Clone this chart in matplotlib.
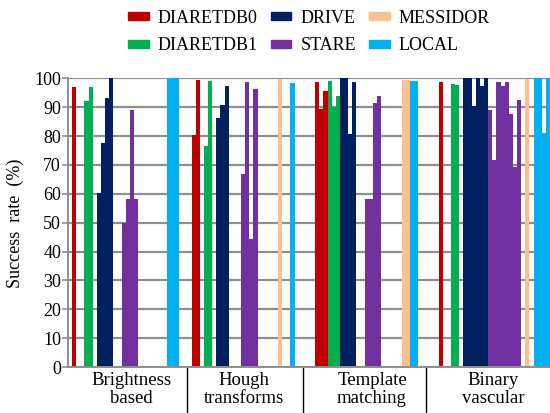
import numpy as np
import matplotlib
matplotlib.use("Agg")
import matplotlib.pyplot as plt
from matplotlib.patches import Patch
from matplotlib.transforms import blended_transform_factory

plt.rcParams['font.family'] = ['Liberation Serif', 'DejaVu Serif']

# datasets and their colours
datasets = ["DIARETDB0", "DIARETDB1", "DRIVE", "STARE", "MESSIDOR", "LOCAL"]
codes = ["D0", "D1", "DR", "ST", "ME", "LO"]
colors = ["#C00000", "#00B050", "#002060", "#7030A0", "#FAC090", "#00B0F0"]

groups = ["Brightness\nbased", "Hough\ntransforms", "Template\nmatching", "Binary\nvascular"]

# one entry per bar slot in each group, "" = empty slot
bright_sets = ["", "D0", "", "", "D1", "D1", "", "DR", "DR", "DR", "DR", "", "",
               "ST", "ST", "ST", "ST", "", "", "", "", "", "", "", "LO", "LO", "LO", "", ""]
bright_vals = [0, 97.1, 0, 0, 92.1, 97.1, 0, 60.1, 77.7, 93.2, 100, 0, 0,
               50.0, 58.2, 89.0, 58.2, 0, 0, 0, 0, 0, 0, 0, 99.7, 100, 100, 0, 0]

hough_sets = ["", "D0", "D0", "", "D1", "D1", "", "DR", "DR", "DR", "", "", "",
              "ST", "ST", "ST", "ST", "", "", "", "", "", "ME", "", "", "LO", "", ""]
hough_vals = [0, 80.3, 99.4, 0, 76.5, 99.1, 0, 86.2, 90.8, 97.3, 0, 0, 0,
              66.8, 98.7, 44.3, 96.3, 0, 0, 0, 0, 0, 99.8, 0, 0, 98.4, 0, 0]

templ_sets = ["", "", "", "D0", "D0", "D0", "D1", "D1", "D1", "DR", "DR", "DR", "DR", "", "",
              "ST", "ST", "ST", "ST", "", "", "", "", "", "ME", "ME", "LO", "LO", "", ""]
templ_vals = [0, 0, 0, 98.7, 89.4, 95.6, 99.1, 90.1, 93.9, 100, 100, 80.7, 98.7, 0, 0,
              58.2, 58.2, 91.4, 93.9, 0, 0, 0, 0, 0, 99.4, 99.4, 99.1, 99.1, 0, 0]

binary_sets = ["", "", "", "D0", "", "", "D1", "D1", "", "DR", "DR", "DR", "DR", "DR", "DR",
               "ST", "ST", "ST", "ST", "ST", "ST", "ST", "ST", "", "ME", "", "LO", "LO", "LO", "LO"]
binary_vals = [0, 0, 0, 98.7, 0, 0, 98.0, 97.7, 0, 100, 100, 90.5, 100, 97.5, 100,
               89.0, 71.7, 98.7, 97.5, 98.7, 87.6, 69.2, 92.5, 0, 99.8, 0, 100, 100, 81.2, 100]

group_sets = [bright_sets, hough_sets, templ_sets, binary_sets]
group_vals = [bright_vals, hough_vals, templ_vals, binary_vals]
label_x = [15.4, 42.8, 73.8, 103.2]

fig = plt.figure(figsize=(5.5, 4.13), dpi=100)
ax = fig.add_axes([68 / 550, 1 - 367 / 413, 1 - 68 / 550, (367 - 78.3) / 413])

col_of = dict(zip(codes, colors))
start = 0
bounds = []
for sets, vals in zip(group_sets, group_vals):
    for i, (s, v) in enumerate(zip(sets, vals)):
        if s:
            ax.bar(start + i, v, width=1.0, align='edge', color=col_of[s],
                   linewidth=0, zorder=2)
    start += len(sets)
    bounds.append(start)

ax.set_xlim(0, start)
ax.set_ylim(0, 100)
ax.set_yticks(np.arange(0, 101, 10))
ax.set_xticks([])
ax.yaxis.grid(True, color='#8f8f8f', linewidth=1.6, zorder=0)
ax.set_axisbelow(True)
for side in ['top', 'right']:
    ax.spines[side].set_visible(False)
ax.spines['left'].set_color('#8f8f8f')
ax.spines['left'].set_linewidth(1.4)
ax.spines['bottom'].set_color('#8f8f8f')
ax.spines['bottom'].set_linewidth(1.4)
ax.tick_params(axis='y', direction='out', length=4, width=1.2, color='#8f8f8f',
               labelsize=13, pad=1)

# group separators and labels under the axis
trans = blended_transform_factory(ax.transData, ax.transAxes)
for b in bounds[:-1]:
    ax.plot([b, b], [0, -0.17], color='black', linewidth=1.0, transform=trans,
            clip_on=False)
for x, g in zip(label_x, groups):
    ax.text(x, -0.018, g, transform=trans, ha='center', va='top', fontsize=13.5,
            linespacing=1.08)

fig.text(15 / 550, 1 - 223 / 413, "Success  rate  (%)", rotation=90,
         ha='center', va='center', fontsize=13)

handles = [Patch(color=c) for c in colors]
fig.legend(handles, datasets, loc='center', bbox_to_anchor=(309 / 550, 1 - 32 / 413),
           ncol=3, frameon=False, fontsize=13, handlelength=1.15, handleheight=0.3,
           handletextpad=0.5, columnspacing=0.7, labelspacing=0.6, borderpad=0)

fig.savefig("out.png", dpi=100)
